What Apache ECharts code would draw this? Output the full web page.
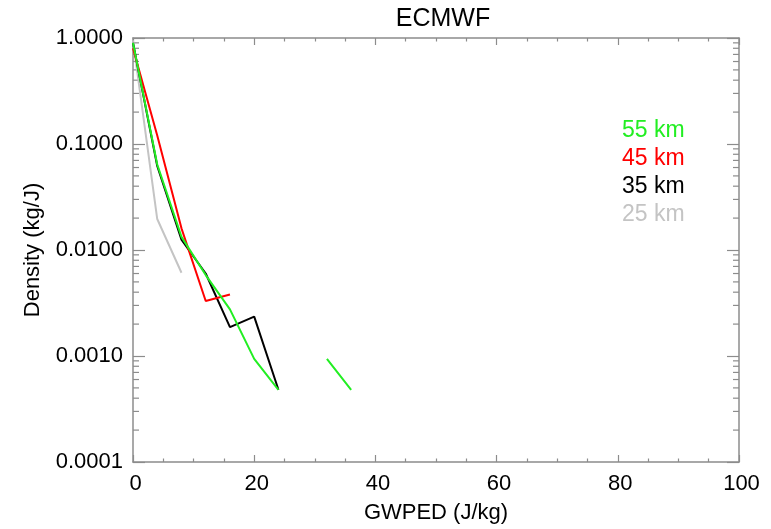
<!DOCTYPE html>
<html>
<head>
<meta charset="utf-8">
<script src="https://cdn.jsdelivr.net/npm/echarts@6/dist/echarts.min.js"></script>
<style>
	html, body { margin: 0; padding: 0; background: #fff; }
	#chart { width: 771px; height: 529px; }
</style>
</head>
<body>
<div id="chart"></div>
<script>
// GWPED bin centres (J/kg)
const binCenters = [0, 4, 8, 12, 16, 20, 24, 28, 32, 36]

// density (kg/J) per level, null = empty bin
const km55 = [0.9, 0.064, 0.0133, 0.0058, 0.00275, 0.00094, 0.00048, null, 0.00094, 0.00048]
const km45 = [0.8, 0.12, 0.016, 0.0033, 0.0038]
const km35 = [0.9, 0.062, 0.0125, 0.006, 0.00187, 0.00235, 0.00048]
const km25 = [0.95, 0.0196, 0.0061]

const levelNames = ['55 km', '45 km', '35 km', '25 km']
const levelColors = ['#22ee22', '#ff0000', '#000000', '#c4c4c4']

// log decades and mantissas used for the minor ticks
const decades = [0.0001, 0.001, 0.01, 0.1]
const minorMantissas = [2, 3, 4, 5, 6, 7, 8, 9]

const FONT = '"Liberation Sans", Arial, sans-serif'
const AXIS_GREY = '#8c8c8c'

const toPairs = vals => vals.map((v, i) => [binCenters[i], v == null ? '-' : v])

const chart = echarts.init(document.getElementById('chart'))

const lineSeries = (idx, vals) => ({
	name: levelNames[idx],
	type: 'line',
	data: toPairs(vals),
	showSymbol: false,
	connectNulls: false,
	lineStyle: { width: 2, color: levelColors[idx] },
	itemStyle: { color: levelColors[idx] },
	z: 3
})

const option = {
	animation: false,
	title: {
		text: 'ECMWF',
		left: 438,
		textAlign: 'center',
		top: 2,
		textStyle: { fontFamily: FONT, fontSize: 25, fontWeight: 'normal', color: '#000' }
	},
	legend: {
		orient: 'vertical',
		left: 612,
		top: 114,
		icon: 'none',
		itemWidth: 0,
		itemHeight: 14,
		itemGap: 5,
		selectedMode: false,
		data: levelNames.map((n, i) => ({ name: n, textStyle: { color: levelColors[i] } })),
		textStyle: { fontFamily: FONT, fontSize: 23, padding: [0, 0, 0, 0] }
	},
	grid: { left: 133, right: 32, top: 38, bottom: 61 },
	xAxis: [
		{
			type: 'value',
			min: 0,
			max: 100,
			interval: 20,
			name: 'GWPED (J/kg)',
			nameLocation: 'middle',
			nameGap: 40,
			nameTextStyle: { fontFamily: FONT, fontSize: 22, color: '#000' },
			axisLine: { onZero: false, lineStyle: { color: AXIS_GREY, width: 1.5 } },
			axisTick: { inside: true, length: 7, lineStyle: { color: AXIS_GREY, width: 1.2 } },
			minorTick: { show: true, splitNumber: 4, length: 3.5, lineStyle: { color: AXIS_GREY, width: 1.2 } },
			axisLabel: { fontFamily: FONT, fontSize: 22, color: '#000', margin: 11, padding: [0, 0, 0, 5] },
			splitLine: { show: false }
		},
		{
			type: 'value',
			position: 'top',
			min: 0,
			max: 100,
			interval: 20,
			axisLine: { onZero: false, lineStyle: { color: AXIS_GREY, width: 1.5 } },
			axisTick: { inside: true, length: 7, lineStyle: { color: AXIS_GREY, width: 1.2 } },
			minorTick: { show: true, splitNumber: 4, length: 3.5, lineStyle: { color: AXIS_GREY, width: 1.2 } },
			axisLabel: { show: false },
			splitLine: { show: false }
		}
	],
	yAxis: [
		{
			type: 'log',
			logBase: 10,
			min: 0.0001,
			max: 1,
			name: 'Density (kg/J)',
			nameLocation: 'middle',
			nameGap: 89,
			nameTextStyle: { fontFamily: FONT, fontSize: 22, color: '#000' },
			axisLine: { onZero: false, lineStyle: { color: AXIS_GREY, width: 1.5 } },
			axisTick: { inside: true, length: 12, lineStyle: { color: AXIS_GREY, width: 1.2 } },
			axisLabel: {
				fontFamily: FONT, fontSize: 22, color: '#000', margin: 10,
				formatter: v => Number(v).toFixed(4)
			},
			splitLine: { show: false }
		},
		{
			type: 'log',
			logBase: 10,
			min: 0.0001,
			max: 1,
			position: 'right',
			axisLine: { onZero: false, lineStyle: { color: AXIS_GREY, width: 1.5 } },
			axisTick: { inside: true, length: 12, lineStyle: { color: AXIS_GREY, width: 1.2 } },
			axisLabel: { show: false },
			splitLine: { show: false }
		}
	],
	series: [
		// log minor ticks (2..9 x 10^k) on left and right frame edges
		{
			type: 'custom',
			silent: true,
			clip: false,
			data: [[0, 1]],
			z: 1,
			renderItem: (params, api) => {
				const children = []
				decades.forEach(d => {
					minorMantissas.forEach(m => {
						const pl = api.coord([0, d * m])
						const pr = api.coord([100, d * m])
						const style = { stroke: AXIS_GREY, lineWidth: 1.2 }
						children.push({ type: 'line', shape: { x1: pl[0], y1: pl[1], x2: pl[0] + 6, y2: pl[1] }, style })
						children.push({ type: 'line', shape: { x1: pr[0], y1: pr[1], x2: pr[0] - 6, y2: pr[1] }, style })
					})
				})
				return { type: 'group', children }
			}
		},
		lineSeries(3, km25),
		lineSeries(2, km35),
		lineSeries(1, km45),
		lineSeries(0, km55)
	]
}

chart.setOption(option)
</script>
</body>
</html>
